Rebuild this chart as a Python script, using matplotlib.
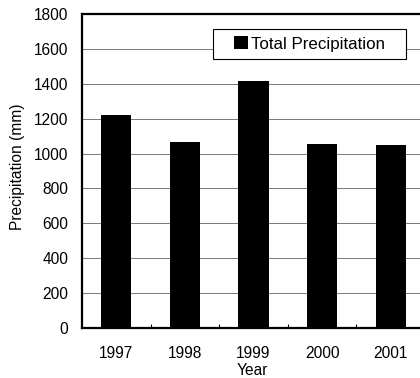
import matplotlib
matplotlib.use("Agg")
import matplotlib.pyplot as plt
import numpy as np
from matplotlib.ticker import FixedLocator
from matplotlib.patches import Rectangle

years = ["1997", "1998", "1999", "2000", "2001"]
precip = [1220, 1068, 1418, 1055, 1047]
yticks = [0, 200, 400, 600, 800, 1000, 1200, 1400, 1600, 1800]

plt.rcParams['font.family'] = ['Liberation Sans', 'DejaVu Sans']

fig = plt.figure(figsize=(4.2, 3.78), dpi=100)
W, H = 420, 378
AX_L, AX_R, AX_T, AX_B = 82, 425, 14, 328
ax = fig.add_axes([AX_L / W, 1 - AX_B / H, (AX_R - AX_L) / W, (AX_B - AX_T) / H])

x = np.arange(len(years))
ax.bar(x, precip, width=0.44, color='black', label='Total Precipitation', zorder=3)

ax.set_ylim(0, 1800)
ax.set_xlim(-0.5, len(years) - 0.5)
ax.set_yticks(yticks)
ax.set_yticklabels([str(v) for v in yticks], fontsize=11.2)
ax.set_xticks(x)
ax.set_xticklabels(years, fontsize=11.2)
ax.xaxis.set_minor_locator(FixedLocator(np.arange(0.5, len(years) - 0.5, 1)))
ax.tick_params(axis='x', which='major', length=0, pad=13)
ax.tick_params(axis='x', which='minor', length=3, direction='in', width=0.8)
ax.tick_params(axis='y', length=0, pad=10)

ax.grid(axis='y', color='#777777', linewidth=0.7, zorder=0)
ax.set_axisbelow(True)

for side in ['left', 'bottom', 'top']:
    ax.spines[side].set_linewidth(1.6)
ax.spines['right'].set_visible(False)

ax.set_ylabel('Precipitation (mm)', fontsize=11.2, labelpad=6, y=0.515)
fig.text((252) / W, 1 - 375 / H, 'Year', fontsize=11.2, ha='center', va='baseline')

# legend frame box
bx0, bx1, by0, by1 = 213, 406, 29, 59
ax.add_patch(Rectangle(((bx0 - AX_L) / (AX_R - AX_L), 1 - (by1 - AX_T) / (AX_B - AX_T)),
                       (bx1 - bx0) / (AX_R - AX_L), (by1 - by0) / (AX_B - AX_T),
                       transform=ax.transAxes, facecolor='white', edgecolor='black',
                       linewidth=0.8, zorder=4))
leg = ax.legend(loc='center', bbox_to_anchor=(((bx0 + bx1) / 2 - AX_L) / (AX_R - AX_L),
                                               1 - ((by0 + by1) / 2 - AX_T) / (AX_B - AX_T)),
                fontsize=12.2, frameon=False,
                handlelength=0.8, handleheight=0.8, handletextpad=0.2,
                borderpad=0, borderaxespad=0)
leg.set_zorder(5)

fig.savefig('out.png', dpi=100)
